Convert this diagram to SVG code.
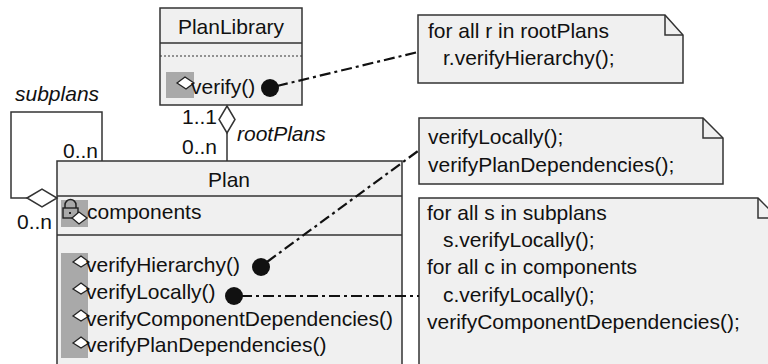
<svg xmlns="http://www.w3.org/2000/svg" width="768" height="364" viewBox="0 0 768 364">
<style>
text{font-family:"Liberation Sans",Arial,sans-serif;font-size:21px;fill:#111}
.it{font-style:italic}
.box{fill:#f0f0f0;stroke:#333;stroke-width:1.5}
.ln{fill:none;stroke:#333;stroke-width:1.5}
.dot{fill:none;stroke:#333;stroke-width:1.2;stroke-dasharray:2 2}
.gray{fill:#a9a9a9}
.dd{fill:none;stroke:#111;stroke-width:2.2;stroke-dasharray:11 4 3 4}
.vis{fill:#fff;stroke:#222;stroke-width:1.3}
.note{fill:#f0f0f0;stroke:#333;stroke-width:1.5}
.blt{fill:#111}
</style>
<g id="PlanLibrary">
<rect class="box" x="160" y="8" width="142" height="97"/>
<line class="ln" x1="160" y1="43" x2="302" y2="43"/>
<line class="dot" x1="160" y1="56" x2="302" y2="56"/>
<text x="231" y="34" text-anchor="middle">PlanLibrary</text>
<rect class="gray" x="166" y="72" width="28" height="26"/>
<path class="vis" d="M177,83 L185,77 L194,83 L186,89 Z"/>
<text x="191" y="94">verify()</text>
</g>
<g id="Plan">
<rect class="box" x="57" y="161" width="345" height="210"/>
<line class="ln" x1="57" y1="196" x2="402" y2="196"/>
<line class="ln" x1="57" y1="235" x2="402" y2="235"/>
<text x="229" y="187" text-anchor="middle">Plan</text>
<rect class="gray" x="61" y="200" width="27" height="27"/>
<g>
<path d="M65,208 v-3 a5.5,5.5 0 0 1 11,0 v3" fill="none" stroke="#222" stroke-width="1.5"/>
<rect x="63" y="208" width="15" height="10" fill="#a9a9a9" stroke="#222" stroke-width="1.4"/>
<rect x="69" y="212" width="2" height="2" fill="#222"/>
<path class="vis" d="M72,218 L79,212 L87,218 L79,224 Z"/>
</g>
<text x="87" y="219">components</text>
<rect class="gray" x="61" y="253" width="27" height="105"/>
<path class="vis" d="M73,262 L81,256 L89,262 L81,267 Z"/>
<text x="86" y="272">verifyHierarchy()</text>
<path class="vis" d="M73,289 L81,283 L89,289 L81,294 Z"/>
<text x="86" y="299">verifyLocally()</text>
<path class="vis" d="M73,316 L81,310 L89,316 L81,321 Z"/>
<text x="86" y="326">verifyComponentDependencies()</text>
<path class="vis" d="M73,343 L81,337 L89,343 L81,348 Z"/>
<text x="86" y="352">verifyPlanDependencies()</text>
</g>
<g id="note1">
<path class="note" d="M418,15 H665 L683,35 V83 H418 Z"/>
<path class="ln" d="M665,15 V35 H683"/>
<text x="428" y="38">for all r in rootPlans</text>
<text x="443" y="65">r.verifyHierarchy();</text>
</g>
<g id="note2">
<path class="note" d="M419,118 H703 L723,138 V184 H419 Z"/>
<path class="ln" d="M703,118 V138 H723"/>
<text x="428" y="144">verifyLocally();</text>
<text x="428" y="172">verifyPlanDependencies();</text>
</g>
<g id="note3">
<path class="note" d="M419,198 H758 L778,218 V372 H419 Z"/>
<path class="ln" d="M758,198 V218 H778"/>
<text x="427" y="220">for all s in subplans</text>
<text x="443" y="247">s.verifyLocally();</text>
<text x="427" y="274">for all c in components</text>
<text x="443" y="302">c.verifyLocally();</text>
<text x="427" y="329">verifyComponentDependencies();</text>
</g>
<g id="connectors">
<path class="ln" d="M102,161 V112 H11 V198 H27"/>
<path d="M27,198 L42,189 L57,198 L42,207 Z" fill="#fff" stroke="#333" stroke-width="1.5"/>
<line class="ln" x1="227" y1="133" x2="227" y2="161"/>
<path d="M227,106 L235,119.5 L227,133 L219,119.5 Z" fill="#fff" stroke="#333" stroke-width="1.5"/>
<text class="it" x="15" y="101">subplans</text>
<text x="63" y="158">0..n</text>
<text x="17" y="229">0..n</text>
<text x="182" y="124">1..1</text>
<text x="182" y="154">0..n</text>
<text class="it" x="237" y="141">rootPlans</text>
<circle class="blt" cx="270" cy="88" r="9"/>
<line class="dd" x1="277" y1="86" x2="418" y2="52"/>
<circle class="blt" cx="261" cy="267" r="9"/>
<line class="dd" x1="267" y1="262" x2="418" y2="151"/>
<circle class="blt" cx="234" cy="296" r="9"/>
<line class="dd" x1="241" y1="296" x2="419" y2="296"/>
</g>
</svg>
